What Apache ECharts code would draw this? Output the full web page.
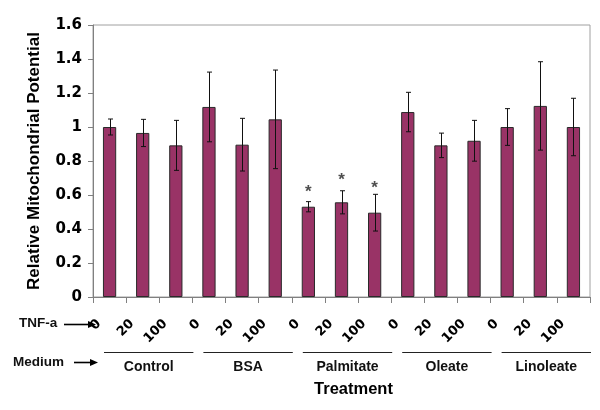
<!DOCTYPE html>
<html><head><meta charset="utf-8">
<script src="https://cdn.jsdelivr.net/npm/echarts@6/dist/echarts.min.js"></script>
<style>html,body{margin:0;padding:0;background:#fff}#c{width:600px;height:410px}</style>
</head><body><div id="c"></div>
<script>
const categories = ['0','20','100','0','20','100','0','20','100','0','20','100','0','20','100'];
const groups = ['Control','BSA','Palmitate','Oleate','Linoleate'];
const means = [1.00, 0.965, 0.892, 1.118, 0.896, 1.045, 0.531, 0.557, 0.496, 1.088, 0.892, 0.919, 1.00, 1.124, 1.00];
const errs  = [0.047, 0.080, 0.147, 0.205, 0.155, 0.290, 0.030, 0.068, 0.108, 0.116, 0.072, 0.120, 0.108, 0.260, 0.169];
const starY = [null, null, null, null, null, null, 0.641, 0.712, 0.665, null, null, null, null, null, null];
const yTitle = 'Relative Mitochondrial Potential';
const xTitle = 'Treatment';
const tnfLabel = 'TNF-a';
const mediumLabel = 'Medium';

const SANS = '"Liberation Sans", Arial, sans-serif';
const WIDE = '"DejaVu Sans", Verdana, sans-serif';

const chart = echarts.init(document.getElementById('c'), null, {renderer: 'canvas'});
const option = {
  animation: false,
  backgroundColor: '#fff',
  grid: {left: 93, right: 10, top: 25, bottom: 113, show: true, borderColor: '#a0a0a0', borderWidth: 1},
  xAxis: {
    type: 'category', data: categories,
    axisLine: {lineStyle: {color: '#808080', width: 1}},
    axisTick: {show: true, interval: 0, length: 6, lineStyle: {color: '#808080'}},
    axisLabel: {interval: 0, rotate: 45, margin: 14, padding: [0, 15, 0, 0],
      fontFamily: WIDE, fontWeight: 'bold', fontSize: 13, color: '#000'}
  },
  yAxis: {
    type: 'value', min: 0, max: 1.6, interval: 0.2,
    name: yTitle, nameLocation: 'middle', nameGap: 50,
    nameTextStyle: {fontFamily: SANS, fontWeight: 'bold', fontSize: 17, color: '#000'},
    axisLine: {show: true, lineStyle: {color: '#808080', width: 1}},
    axisTick: {show: true, length: 5, lineStyle: {color: '#808080'}},
    splitLine: {show: false},
    axisLabel: {margin: 11, fontFamily: WIDE, fontWeight: 'bold', fontSize: 15, color: '#000'}
  },
  series: [
    {
      type: 'bar', data: means, barWidth: '40%',
      itemStyle: {color: '#993366', borderColor: '#2a2a2a', borderWidth: 1}
    },
    {
      type: 'custom',
      data: means.map((m, i) => [i, m - errs[i], m + errs[i]]),
      renderItem: function (params, api) {
        const i = api.value(0);
        const lo = api.coord([i, api.value(1)]);
        const hi = api.coord([i, api.value(2)]);
        const x = Math.round(lo[0]) + 0.5;
        const cw = 2.5;
        const st = {stroke: '#111', lineWidth: 1};
        return {type: 'group', children: [
          {type: 'line', shape: {x1: x, y1: lo[1], x2: x, y2: hi[1]}, style: st},
          {type: 'line', shape: {x1: x - cw, y1: hi[1], x2: x + cw, y2: hi[1]}, style: st},
          {type: 'line', shape: {x1: x - cw, y1: lo[1], x2: x + cw, y2: lo[1]}, style: st}
        ]};
      },
      z: 5
    },
    {
      type: 'scatter', data: starY.map((v, i) => v == null ? null : [i, v]),
      symbolSize: 1, itemStyle: {color: 'rgba(0,0,0,0)'},
      label: {show: true, position: 'inside', formatter: '*', offset: [0, 4],
        fontFamily: SANS, fontWeight: 'bold', fontSize: 17, color: '#222'},
      z: 6
    }
  ]
};
chart.setOption(option);

const xs = categories.map((_, i) => chart.convertToPixel({xAxisIndex: 0}, i));
const band = xs[1] - xs[0];
const plotLeft = xs[0] - band / 2;
const plotRight = xs[xs.length - 1] + band / 2;
const elements = [];
groups.forEach((g, k) => {
  const start = xs[k * 3] - band / 2 + 11;
  const end = xs[k * 3 + 2] + band / 2 + 1;
  elements.push({type: 'line', shape: {x1: start, y1: 352.5, x2: end, y2: 352.5}, style: {stroke: '#222', lineWidth: 1}});
  elements.push({type: 'text', x: (start + end) / 2, y: 367, style: {text: g, font: 'bold 14px ' + SANS, fill: '#111', textAlign: 'center', textVerticalAlign: 'middle'}});
});
elements.push({type: 'text', x: (plotLeft + plotRight) / 2 + 12, y: 389, style: {text: xTitle, font: 'bold 16.5px ' + SANS, fill: '#000', textAlign: 'center', textVerticalAlign: 'middle'}});
elements.push({type: 'text', x: 19, y: 323, style: {text: tnfLabel, font: 'bold 13.5px ' + SANS, fill: '#111', textAlign: 'left', textVerticalAlign: 'middle'}});
elements.push({type: 'line', shape: {x1: 64, y1: 324.5, x2: 90, y2: 324.5}, style: {stroke: '#000', lineWidth: 1.6}});
elements.push({type: 'polygon', shape: {points: [[96, 324.5], [88, 321], [88, 328]]}, style: {fill: '#000'}});
elements.push({type: 'text', x: 13, y: 362, style: {text: mediumLabel, font: 'bold 13.5px ' + SANS, fill: '#111', textAlign: 'left', textVerticalAlign: 'middle'}});
elements.push({type: 'line', shape: {x1: 74, y1: 362.5, x2: 92, y2: 362.5}, style: {stroke: '#000', lineWidth: 1.6}});
elements.push({type: 'polygon', shape: {points: [[98, 362.5], [90, 359], [90, 366]]}, style: {fill: '#000'}});
chart.setOption({graphic: {elements: elements}});
</script>
</body></html>
